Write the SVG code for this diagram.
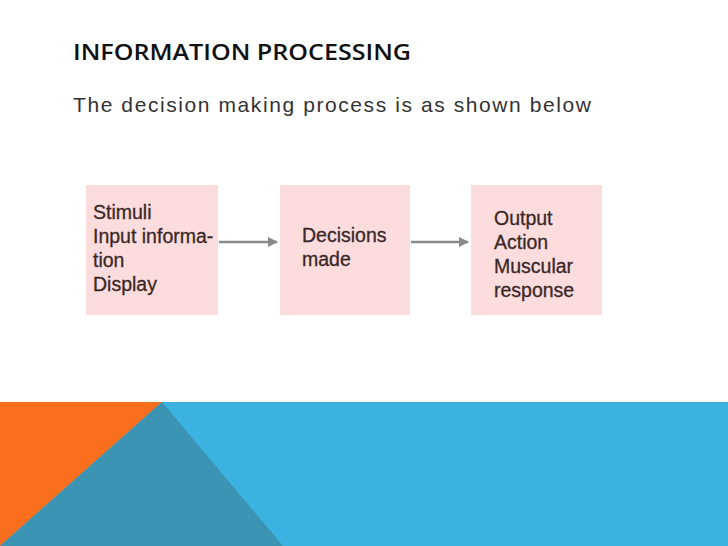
<svg xmlns="http://www.w3.org/2000/svg" width="728" height="546" viewBox="0 0 728 546">
<style>
.box{fill:#fcdcdc}
.t{font-family:"Liberation Sans",Arial,sans-serif;font-size:19.5px;fill:#3a2828;stroke:#3a2828;stroke-width:0.3}
.c{stroke:#8a8a8a;stroke-width:2.5;fill:none}
</style>
<defs><marker id="ah" viewBox="0 0 10 10" refX="9" refY="5" markerWidth="4" markerHeight="4" orient="auto"><path d="M0,0 L10,5 L0,10 z" fill="#8a8a8a"/></marker></defs>
<rect width="728" height="546" fill="#fff"/>
<text x="73" y="60" font-family="'Open Sans','Liberation Sans',sans-serif" font-size="21" font-weight="600" fill="#111" textLength="338" lengthAdjust="spacingAndGlyphs">INFORMATION PROCESSING</text>
<text x="73" y="112" font-family="'Liberation Sans',Arial,sans-serif" font-size="21" fill="#333" textLength="518" lengthAdjust="spacing">The decision making process is as shown below</text>
<g id="n1"><rect class="box" x="86" y="185" width="132" height="130"/>
<text class="t" x="93" y="219">Stimuli</text><text class="t" x="93" y="243">Input informa-</text><text class="t" x="93" y="267">tion</text><text class="t" x="93" y="291">Display</text></g>
<g id="n2"><rect class="box" x="280" y="185" width="130" height="130"/>
<text class="t" x="302" y="242">Decisions</text><text class="t" x="302" y="266">made</text></g>
<g id="n3"><rect class="box" x="471" y="185" width="131" height="130"/>
<text class="t" x="494" y="225">Output</text><text class="t" x="494" y="249">Action</text><text class="t" x="494" y="273">Muscular</text><text class="t" x="494" y="297">response</text></g>
<g id="connectors">
<line class="c" x1="219" y1="242" x2="277" y2="242" marker-end="url(#ah)"/>
<line class="c" x1="411" y1="242" x2="468" y2="242" marker-end="url(#ah)"/>
</g>
<rect x="0" y="402" width="728" height="144" fill="#3bb2df"/>
<polygon points="0,402 162,402 0,546" fill="#f96f1e"/>
<polygon points="162,402 283,546 0,546" fill="#3b94b3"/>
</svg>
